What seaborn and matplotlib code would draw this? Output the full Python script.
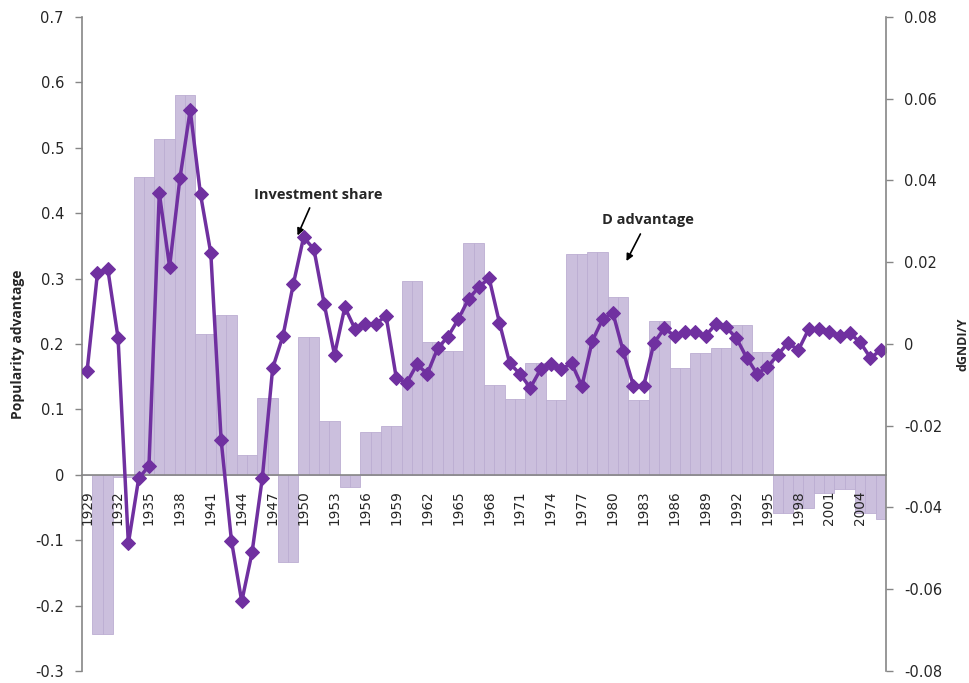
import numpy as np
import pandas as pd
import matplotlib
matplotlib.use("Agg")
import matplotlib.pyplot as plt
import seaborn as sns


# ==========================================
# DATA
# ==========================================

years = list(range(1929, 2007))

# D advantage (popularity advantage), one value per year, left axis
d_advantage = [
    0.0,
    -0.243, -0.243,
    -0.004, -0.004,
    0.455, 0.455,
    0.514, 0.514,
    0.581, 0.581,
    0.215, 0.215,
    0.244, 0.244,
    0.030, 0.030,
    0.117, 0.117,
    -0.133, -0.133,
    0.211, 0.211,
    0.082, 0.082,
    -0.018, -0.018,
    0.066, 0.066,
    0.075, 0.075,
    0.297, 0.297,
    0.203, 0.203,
    0.190, 0.190,
    0.354, 0.354,
    0.137, 0.137,
    0.116, 0.116,
    0.171, 0.171,
    0.114, 0.114,
    0.337, 0.337,
    0.341, 0.341,
    0.272, 0.272,
    0.114, 0.114,
    0.235, 0.235,
    0.163, 0.163,
    0.186, 0.186,
    0.194, 0.194,
    0.229, 0.229,
    0.188, 0.188,
    -0.059, -0.059,
    -0.051, -0.051,
    -0.028, -0.028,
    -0.021, -0.021,
    -0.058, -0.058,
    -0.068,
]

# Investment share (dGNDI/Y), right axis
investment_share = [
    -0.0065, 0.0173, 0.0184, 0.0015, -0.0488, -0.0329, -0.0298, 0.0369,
    0.0189, 0.0405, 0.0572, 0.0366, 0.0222, -0.0235, -0.0481, -0.0630,
    -0.0510, -0.0327, -0.0059, 0.0020, 0.0146, 0.0261, 0.0232, 0.0098,
    -0.0026, 0.0090, 0.0036, 0.0049, 0.0049, 0.0069, -0.0084, -0.0095,
    -0.0050, -0.0073, -0.0011, 0.0018, 0.0060, 0.0110, 0.0139, 0.0161,
    0.0052, -0.0047, -0.0074, -0.0107, -0.0062, -0.0050, -0.0062, -0.0047,
    -0.0103, 0.0007, 0.0060, 0.0077, -0.0017, -0.0102, -0.0102, 0.0003,
    0.0038, 0.0020, 0.0030, 0.0029, 0.0020, 0.0049, 0.0041, 0.0014,
    -0.0034, -0.0073, -0.0056, -0.0027, 0.0003, -0.0015, 0.0036, 0.0036,
    0.0030, 0.0020, 0.0026, 0.0004, -0.0034, -0.0015,
]

left_ticks = [-0.3, -0.2, -0.1, 0, 0.1, 0.2, 0.3, 0.4, 0.5, 0.6, 0.7]
left_tick_labels = ["-0.3", "-0.2", "-0.1", "0", "0.1", "0.2", "0.3",
                    "0.4", "0.5", "0.6", "0.7"]
right_ticks = [-0.08, -0.06, -0.04, -0.02, 0, 0.02, 0.04, 0.06, 0.08]
right_tick_labels = ["-0.08", "-0.06", "-0.04", "-0.02", "0",
                     "0.02", "0.04", "0.06", "0.08"]


# ==========================================
# STYLE
# ==========================================

sns.set_style("white")
plt.rcParams["font.family"] = ["DejaVu Sans"]

bar_color = "#cbbfdd"
bar_edge = "#bcaed2"
line_color = "#7030a0"
axis_gray = "#868686"

dataframe = pd.DataFrame({
    "year": years,
    "pos": np.arange(len(years)),
    "d_advantage": d_advantage,
    "investment_share": investment_share,
})


# ==========================================
# FIGURE
# ==========================================

fig = plt.figure(figsize=(9.69, 6.83), dpi=100)
ax = fig.add_axes([0.0846, 0.0176, 0.8297, 0.9575])

sns.barplot(
    data=dataframe,
    x="year",
    y="d_advantage",
    ax=ax,
    color=bar_color,
    saturation=1,
    width=1.0,
    edgecolor=bar_edge,
    linewidth=0.6,
)

ax.set_xlim(-0.5, len(years) - 0.5)
ax.set_ylim(-0.3, 0.7)
ax.set_yticks(left_ticks)
ax.set_yticklabels(left_tick_labels, fontsize=10.5)
ax.set_ylabel(
    "Popularity advantage",
    fontfamily="Open Sans",
    fontweight="bold",
    fontsize=10,
    labelpad=7,
)
ax.set_xlabel("")

# x axis crossing at zero, drawn above the bars
ax.spines["bottom"].set_position(("data", 0))
ax.spines["top"].set_visible(False)
ax.spines["right"].set_visible(False)
for side in ["left", "bottom"]:
    ax.spines[side].set_color(axis_gray)
    ax.spines[side].set_linewidth(1.2)
    ax.spines[side].set_zorder(5)
ax.xaxis.set_zorder(5)

boundaries = np.arange(-0.5, len(years), 1)
ax.set_xticks(boundaries)
ax.set_xticklabels([""] * len(boundaries))
label_pos = [i for i, y in enumerate(years) if (y - 1929) % 3 == 0]
ax.set_xticks(label_pos, minor=True)
ax.set_xticklabels(
    [str(years[i]) for i in label_pos],
    minor=True,
    rotation=90,
    fontsize=9.8,
)
ax.tick_params(axis="x", which="major", direction="out", length=5,
               color=axis_gray, width=1)
ax.tick_params(axis="x", which="minor", length=0, pad=11)
ax.tick_params(axis="y", direction="out", length=5, color=axis_gray,
               width=1, left=True, pad=8)


# ==========================================
# INVESTMENT SHARE LINE (RIGHT AXIS)
# ==========================================

ax2 = ax.twinx()

sns.lineplot(
    data=dataframe,
    x="pos",
    y="investment_share",
    ax=ax2,
    color=line_color,
    linewidth=2.5,
    marker="D",
    markersize=7,
    markeredgecolor=line_color,
)

ax2.set_ylim(-0.08, 0.08)
ax2.set_yticks(right_ticks)
ax2.set_yticklabels(right_tick_labels, fontsize=10.5)
ax2.set_ylabel(
    "dGNDI/Y",
    fontfamily="Open Sans",
    fontweight="bold",
    fontsize=9,
    labelpad=10,
    rotation=90,
)
ax2.set_xlim(-0.5, len(years) - 0.5)

for side in ["top", "left", "bottom"]:
    ax2.spines[side].set_visible(False)
ax2.spines["right"].set_color(axis_gray)
ax2.spines["right"].set_linewidth(1.2)
ax2.tick_params(axis="y", direction="out", length=5, color=axis_gray,
                width=1, right=True, pad=8)


# ==========================================
# ANNOTATIONS
# ==========================================

ax.text(22.4, 0.428, "Investment share", ha="center", va="center",
        fontfamily="Open Sans", fontweight="bold", fontsize=10.5)
ax.annotate("", xy=(20.3, 0.362), xytext=(21.7, 0.412),
            arrowprops=dict(arrowstyle="-|>", color="black", lw=1.2,
                            mutation_scale=10))

ax.text(54.45, 0.390, "D advantage", ha="center", va="center",
        fontfamily="Open Sans", fontweight="bold", fontsize=10.5)
ax.annotate("", xy=(52.2, 0.323), xytext=(53.8, 0.372),
            arrowprops=dict(arrowstyle="-|>", color="black", lw=1.2,
                            mutation_scale=10))

plt.savefig("out.png", dpi=100)
plt.close()
